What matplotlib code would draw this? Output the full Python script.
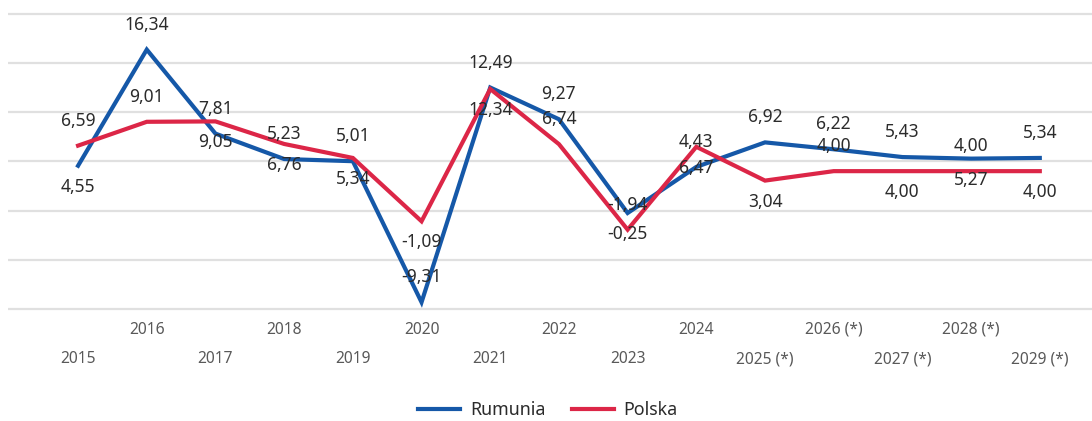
import matplotlib.pyplot as plt

plt.rcParams['font.family'] = ['Noto Sans', 'DejaVu Sans']

# dane
years = ['2015', '2016', '2017', '2018', '2019', '2020', '2021', '2022', '2023',
         '2024', '2025 (*)', '2026 (*)', '2027 (*)', '2028 (*)', '2029 (*)']
rumunia = [4.55, 16.34, 7.81, 5.23, 5.01, -9.31, 12.49, 9.27, -0.25,
           4.43, 6.92, 6.22, 5.43, 5.27, 5.34]
polska = [6.59, 9.01, 9.05, 6.76, 5.34, -1.09, 12.34, 6.74, -1.94,
          6.47, 3.04, 4.00, 4.00, 4.00, 4.00]

# etykiety nad (1) lub pod (-1) punktem
rum_side = [-1, 1, 1, 1, 1, 1, 1, 1, -1, 1, 1, 1, 1, -1, 1]
pol_side = [1, 1, -1, -1, -1, -1, -1, 1, 1, -1, -1, 1, -1, 1, -1]

blue = '#1558a8'
red = '#dc2647'
txt = '#2b2b2b'

fig = plt.figure(figsize=(10.92, 4.21), dpi=100)
ax = fig.add_axes([8 / 1092, 1 - 312 / 421, 1084 / 1092, 302 / 421])

x = list(range(len(years)))
ax.plot(x, rumunia, color=blue, lw=3.0, label='Rumunia', solid_joinstyle='miter', zorder=3)
ax.plot(x, polska, color=red, lw=3.0, label='Polska', solid_joinstyle='miter', zorder=3)

def fmt(v):
    return f'{v:.2f}'.replace('.', ',')

for series, side in ((rumunia, rum_side), (polska, pol_side)):
    for i, v in enumerate(series):
        off = 25 if side[i] > 0 else -21
        ax.annotate(fmt(v), (i, v), xytext=(0, off), textcoords='offset pixels',
                    ha='center', va='center', fontsize=12.5, color=txt, zorder=4)

ax.set_xlim(-1.02, 14.76)
ax.set_ylim(-10.3, 20.36)
ax.set_yticks([-10, -5, 0, 5, 10, 15, 20])
ax.yaxis.grid(True, color='#e0e0e0', lw=1.6)
ax.set_axisbelow(True)
ax.tick_params(axis='y', left=False, labelleft=False)

# etykiety osi X w dwóch rzędach
ax.set_xticks(x[1::2], years[1::2])
ax.set_xticks(x[0::2], years[0::2], minor=True)
ax.tick_params(axis='x', which='both', length=0, labelsize=11.2, labelcolor='#595959')
ax.tick_params(axis='x', which='major', pad=7.2)
ax.tick_params(axis='x', which='minor', pad=28.2)

for s in ax.spines.values():
    s.set_visible(False)

fig.legend(loc='center', bbox_to_anchor=(0.502, 1 - 410 / 421), ncol=2, frameon=False,
           fontsize=12.8, handlelength=2.35, handletextpad=0.55, columnspacing=1.5,
           labelcolor=txt)

fig.savefig('out.png', dpi=100)
